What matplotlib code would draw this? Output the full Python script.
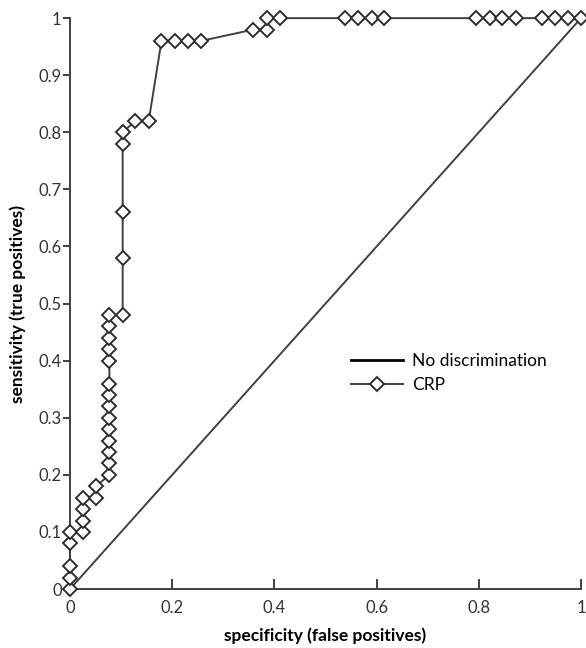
import matplotlib
matplotlib.use("Agg")
import matplotlib.pyplot as plt

# ROC curve for CRP: false positive rate (1 - specificity) vs sensitivity
fpr = [0, 0, 0, 0, 0,
       0.026, 0.026, 0.026, 0.026,
       0.051, 0.051,
       0.077, 0.077, 0.077, 0.077, 0.077, 0.077, 0.077, 0.077, 0.077,
       0.077, 0.077, 0.077, 0.077, 0.077,
       0.103, 0.103, 0.103, 0.103, 0.103,
       0.128, 0.154,
       0.179, 0.205, 0.231, 0.256,
       0.359, 0.385, 0.385, 0.410,
       0.538, 0.564, 0.590, 0.615,
       0.795, 0.821, 0.846, 0.872,
       0.923, 0.949, 0.974, 1.0]
tpr = [0, 0.02, 0.04, 0.08, 0.10,
       0.10, 0.12, 0.14, 0.16,
       0.16, 0.18,
       0.20, 0.22, 0.24, 0.26, 0.28, 0.30, 0.32, 0.34, 0.36,
       0.40, 0.42, 0.44, 0.46, 0.48,
       0.48, 0.58, 0.66, 0.78, 0.80,
       0.82, 0.82,
       0.96, 0.96, 0.96, 0.96,
       0.98, 0.98, 1.0, 1.0,
       1.0, 1.0, 1.0, 1.0,
       1.0, 1.0, 1.0, 1.0,
       1.0, 1.0, 1.0, 1.0]

ref_x = [0, 1]
ref_y = [0, 1]

xticks = [0, 0.2, 0.4, 0.6, 0.8, 1]
xlabels = ["0", "0.2", "0.4", "0.6", "0.8", "1"]
yticks = [0, 0.1, 0.2, 0.3, 0.4, 0.5, 0.6, 0.7, 0.8, 0.9, 1]
ylabels = ["0", "0.1", "0.2", "0.3", "0.4", "0.5", "0.6", "0.7", "0.8", "0.9", "1"]

plt.rcParams["font.family"] = ["Lato", "DejaVu Sans"]

fig = plt.figure(figsize=(5.86, 6.48), dpi=100)
ax = fig.add_axes([0.1195, 0.091, 0.872, 0.881])

grey = "#404040"

ax.plot(ref_x, ref_y, color=grey, lw=1.4, label="No discrimination", clip_on=False)
ax.plot(fpr, tpr, color=grey, lw=1.4, marker="D", ms=7, mfc="white",
        mec="#2e2e2e", mew=1.4, label="CRP", clip_on=False, zorder=3)

ax.set_xlim(0, 1)
ax.set_ylim(0, 1)

for s in ["top", "right"]:
    ax.spines[s].set_visible(False)
for s in ["left", "bottom"]:
    ax.spines[s].set_color(grey)
    ax.spines[s].set_linewidth(1.4)

ax.set_xticks(xticks)
ax.set_xticklabels(xlabels)
ax.set_yticks(yticks)
ax.set_yticklabels(ylabels)
ax.tick_params(axis="x", direction="in", length=7, width=1.4, color=grey,
               labelsize=12, pad=8, labelcolor="#333333")
ax.tick_params(axis="y", direction="out", length=5, width=1.4, color=grey,
               labelsize=12, pad=1, labelcolor="#333333")

ax.set_xlabel("specificity (false positives)", fontsize=12.5, fontweight="bold",
              labelpad=8)
ax.set_ylabel("sensitivity (true positives)", fontsize=12.5, fontweight="bold",
              labelpad=9)

# legend: the "No discrimination" line is drawn black in the key
leg = ax.legend(loc="upper left", bbox_to_anchor=(0.52, 0.44), frameon=False,
                fontsize=12.5, handlelength=3.0, handletextpad=0.5,
                labelspacing=0.45)
leg.get_lines()[0].set_color("black")
leg.get_lines()[0].set_linewidth(2)

fig.savefig("out.png", dpi=100)
